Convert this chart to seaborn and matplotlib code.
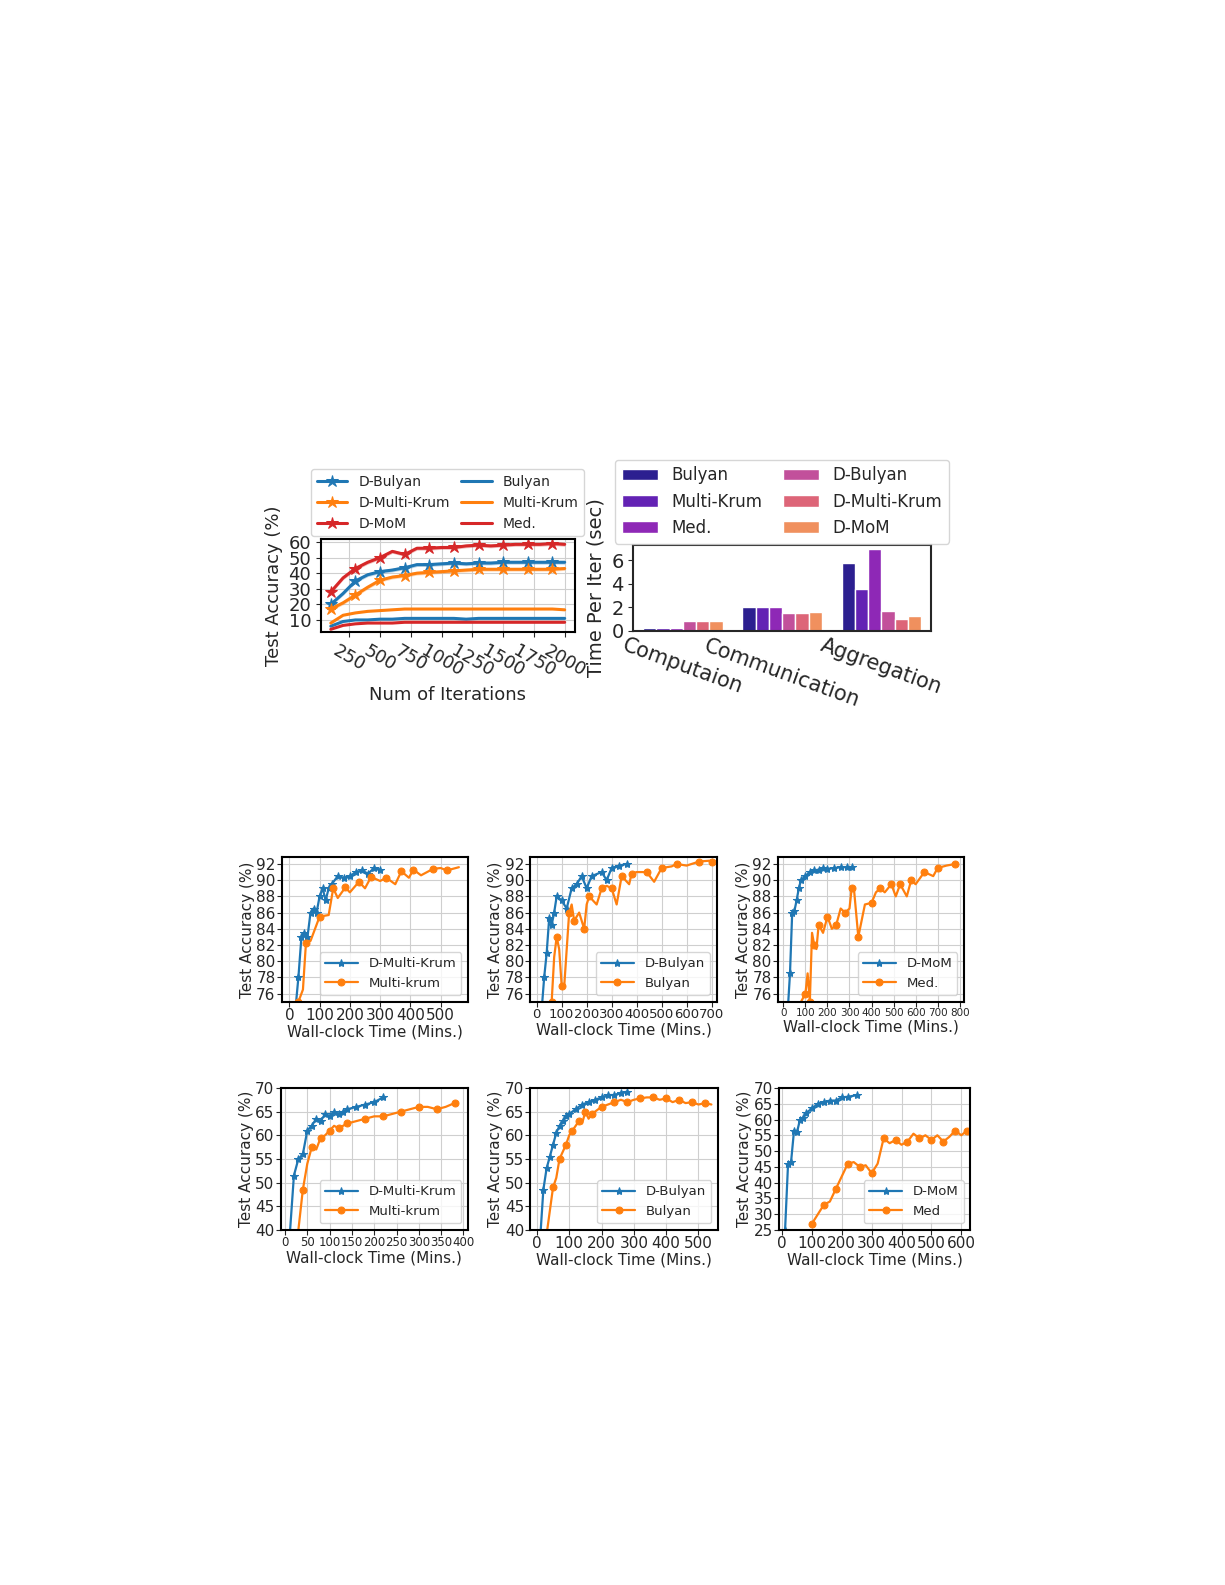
import numpy as np
import pandas as pd
import matplotlib
matplotlib.use("Agg")
import matplotlib.pyplot as plt
import seaborn as sns

sns.set_style("ticks")
plt.rcParams['font.family'] = ['DejaVu Sans']

BLUE, ORANGE, RED = "#1f77b4", "#ff7f0e", "#d62728"

# ---- top-left: accuracy vs iterations
iters = list(range(100, 2001, 100))
d_mom = [28, 37, 43, 47, 50, 54, 52, 56, 56, 56.5, 56.5, 57.5, 58, 57.5, 58, 58.5, 58.5, 58.5, 59, 58.5]
d_bulyan = [20, 27, 35, 39, 41, 42, 43.5, 45.5, 45.5, 46, 46.5, 46, 46.5, 46.5, 47, 47, 47, 47, 47, 47]
d_mkrum = [17, 21, 26, 31, 35.5, 37.5, 38.5, 40, 40.5, 41, 41.5, 42, 42.5, 42.5, 42.5, 42.5, 42.5, 42.5, 42.5, 43]
mkrum = [8, 13, 14.5, 15.5, 16, 16.5, 17, 17, 17, 17, 17, 17, 17, 17, 17, 17, 17, 17, 17, 16.5]
bulyan = [6, 9, 10, 10, 10.5, 10.5, 11, 11, 11, 11, 11, 10.5, 11, 11, 11, 11, 11, 11, 11, 11]
med = [4, 6.5, 7.5, 8, 8, 8, 8.5, 8.5, 8.5, 8.5, 8.5, 8.5, 8.5, 8.5, 8.5, 8.5, 8.5, 8.5, 8.5, 8.5]

# ---- top-right: time per iteration
stages = ["Computaion", "Communication", "Aggregation"]
methods = ["Bulyan", "Multi-Krum", "Med.", "D-Bulyan", "D-Multi-Krum", "D-MoM"]
times = {
    "Computaion": [0.25, 0.25, 0.25, 0.8, 0.8, 0.85],
    "Communication": [2.0, 2.0, 2.0, 1.55, 1.55, 1.6],
    "Aggregation": [5.8, 3.6, 7.0, 1.7, 1.0, 1.3],
}
bar_colors = ["#2c1f90", "#6322b4", "#8e28b6", "#c2509b", "#dd6578", "#f0905e"]

# ---- wall-clock panels (x in mins, y in %)
p1_dx = [20, 30, 40, 50, 60, 70, 80, 90, 100, 110, 120, 130, 140, 160, 180, 200, 220, 240, 260, 280, 300]
p1_dy = [74, 78, 83, 83.5, 83, 86, 86.5, 86, 88, 89, 87.5, 89, 89.5, 90.5, 90.3, 90.5, 91, 91.2, 90.8, 91.5, 91.3]
p1_x = [30, 45, 55, 70, 100, 130, 145, 160, 185, 200, 230, 250, 270, 300, 320, 350, 370, 395, 410, 435, 475, 500, 520, 560]
p1_y = [75, 76.5, 82.3, 82.5, 85.5, 85.7, 89, 87.8, 89.1, 88.5, 89.8, 89, 90.4, 89.9, 90.3, 89.5, 91.1, 90.3, 91.3, 90.6, 91.4, 91.5, 91.2, 91.6]

p2_dx = [20, 30, 40, 50, 60, 70, 80, 100, 120, 140, 160, 180, 200, 220, 260, 280, 300, 330, 360]
p2_dy = [74, 78, 81, 85.3, 84.5, 86, 88, 87.5, 86.5, 89, 89.5, 90.5, 89, 90.5, 91, 90, 91.5, 91.8, 92]
p2_x = [60, 70, 80, 90, 100, 110, 130, 140, 150, 170, 190, 200, 210, 240, 260, 280, 300, 320, 340, 370, 380, 400,
        440, 470, 500, 540, 560, 600, 650, 690, 700]
p2_y = [75, 80.5, 83, 81.5, 77, 76.8, 86, 87, 85, 86, 84, 87, 88, 87, 89, 89.3, 89, 87, 90.5, 89.5, 90.8, 91,
        91, 89.8, 91.5, 91.7, 92, 91.8, 92.3, 92.4, 92.3]

p3_dx = [20, 30, 40, 50, 60, 70, 80, 100, 120, 140, 160, 180, 200, 230, 260, 290, 310]
p3_dy = [74, 78.5, 86, 86.2, 87.5, 89, 90, 90.5, 91, 91.2, 91.3, 91.5, 91.4, 91.5, 91.6, 91.6, 91.6]
p3_x = [60, 80, 100, 110, 120, 130, 140, 150, 160, 180, 200, 220, 240, 260, 280, 300, 310, 320, 340, 370, 400,
        420, 440, 460, 490, 510, 530, 560, 580, 600, 640, 680, 700, 740, 780]
p3_y = [73, 75, 76, 78.5, 75, 83.5, 82, 81.5, 84.5, 83.5, 85.5, 84, 84.5, 86.5, 86, 86.5, 89, 89, 83, 87, 87.2,
        88.5, 89, 88.5, 89.5, 88, 89.5, 88, 90, 89.5, 91, 90.5, 91.5, 91.8, 92]

p4_dx = [10, 20, 30, 40, 50, 60, 70, 80, 90, 100, 110, 120, 130, 140, 160, 180, 200, 220]
p4_dy = [38, 51.5, 55, 56, 61, 62, 63.5, 63, 64.5, 64, 65, 64.5, 65, 65.5, 66, 66.5, 67, 68]
p4_x = [25, 30, 40, 50, 60, 70, 80, 90, 100, 110, 120, 130, 140, 160, 180, 200, 220, 240, 260, 280, 300, 320,
        340, 360, 380]
p4_y = [38, 40, 48.5, 54, 57.5, 57, 59.5, 60, 61, 62, 61.5, 62, 62.5, 63, 63.5, 64, 64, 64.5, 65, 65.5, 66, 66,
        65.5, 66, 66.8]

p5_dx = [10, 20, 30, 40, 50, 60, 70, 80, 90, 100, 120, 140, 160, 180, 200, 220, 240, 260, 280]
p5_dy = [38, 48.5, 53, 55.5, 58, 60.5, 62, 63, 64, 64.5, 65.5, 66.5, 67, 67.5, 68, 68.5, 68.5, 69, 69.2]
p5_x = [30, 40, 50, 60, 70, 80, 90, 100, 110, 120, 130, 140, 150, 160, 170, 180, 200, 220, 240, 260, 280, 300,
        320, 340, 360, 380, 400, 420, 440, 460, 480, 500, 520, 540]
p5_y = [39, 44, 49, 51, 55, 56.5, 58, 60, 61, 62, 63, 62.5, 65, 63.5, 64.5, 65, 66, 66.5, 67, 67.5, 67, 67.5,
        67.8, 68, 68, 67.5, 67.8, 67, 67.5, 66.8, 67, 66.5, 66.8, 66.5]

p6_dx = [10, 20, 30, 40, 50, 60, 70, 80, 100, 120, 140, 160, 180, 200, 220, 250]
p6_dy = [25, 46, 46.5, 56.5, 56, 60, 60.5, 62, 63.5, 65, 65.5, 66, 66, 67, 67.2, 67.7]
p6_x = [100, 120, 140, 160, 180, 200, 220, 240, 260, 280, 300, 320, 340, 360, 380, 400, 420, 440, 460, 480, 500,
        520, 540, 560, 580, 600, 620]
p6_y = [27, 30, 33, 34, 38, 42, 46, 46.5, 45, 45.5, 43, 46, 54, 52.5, 53.5, 52, 53, 55.5, 54, 55, 53.5, 55, 53,
        54.5, 56.5, 55, 56.5]

fig = plt.figure(figsize=(12.25, 15.85), dpi=100)


def frame(ax):
    ax.grid(True, color="#cfcfcf", linewidth=0.8)
    ax.set_axisbelow(True)
    for s in ax.spines.values():
        s.set_linewidth(1.5)
        s.set_color("black")


# top-left
ax = fig.add_axes([0.262, 0.601, 0.207, 0.059])
for ys, c, lab in [(d_bulyan, BLUE, "D-Bulyan"), (d_mkrum, ORANGE, "D-Multi-Krum"), (d_mom, RED, "D-MoM")]:
    sns.lineplot(x=iters, y=ys, ax=ax, color=c, marker="*", markersize=9, markevery=2, lw=2.2, label=lab,
                 markeredgecolor=c)
    ax.fill_between(iters, np.array(ys) - 1.2, np.array(ys) + 1.2, color=c, alpha=0.3, lw=0)
for ys, c, lab in [(bulyan, BLUE, "Bulyan"), (mkrum, ORANGE, "Multi-Krum"), (med, RED, "Med.")]:
    sns.lineplot(x=iters, y=ys, ax=ax, color=c, lw=2.2, label=lab)
ax.set_xlim(20, 2080)
ax.set_ylim(2, 62)
ax.set_xticks(range(250, 2001, 250))
ax.set_yticks(range(10, 61, 10))
ax.tick_params(axis="x", labelsize=13, rotation=-30)
ax.tick_params(axis="y", labelsize=13)
ax.set_xlabel("Num of Iterations", fontsize=13)
ax.set_ylabel("Test Accuracy (%)", fontsize=13)
ax.legend(ncol=2, fontsize=10, loc="lower center", bbox_to_anchor=(0.5, 1.0), handlelength=2.2,
          columnspacing=0.8, borderaxespad=0.2)
frame(ax)

# top-right
ax = fig.add_axes([0.517, 0.602, 0.243, 0.054])
rows = [(st, m, times[st][i]) for st in stages for i, m in enumerate(methods)]
df = pd.DataFrame(rows, columns=["stage", "method", "time"])
sns.barplot(data=df, x="stage", y="time", hue="method", hue_order=methods, order=stages,
            palette=bar_colors, ax=ax, saturation=1)
ax.set_ylim(0, 7.3)
ax.set_yticks([0, 2, 4, 6])
ax.set_xlabel("")
ax.set_ylabel("Time Per Iter (sec)", fontsize=14)
ax.tick_params(axis="y", labelsize=14)
ax.tick_params(axis="x", labelsize=15, rotation=-20, length=0)
ax.legend(ncol=2, fontsize=12, loc="lower center", bbox_to_anchor=(0.5, 1.02), borderaxespad=0,
          columnspacing=1.2, handlelength=2.2)
for s in ax.spines.values():
    s.set_linewidth(1.5)

# wall-clock panels
panels = [
    ([0.230, 0.368, 0.152, 0.091], p1_dx, p1_dy, p1_x, p1_y, "D-Multi-Krum", "Multi-krum",
     (-25, 590), range(0, 501, 100), (75, 92.8), range(76, 93, 2), 11),
    ([0.433, 0.368, 0.152, 0.091], p2_dx, p2_dy, p2_x, p2_y, "D-Bulyan", "Bulyan",
     (-25, 720), range(0, 701, 100), (75, 92.8), range(76, 93, 2), 9.5),
    ([0.635, 0.368, 0.152, 0.091], p3_dx, p3_dy, p3_x, p3_y, "D-MoM", "Med.",
     (-25, 820), range(0, 801, 100), (75, 92.8), range(76, 93, 2), 7.5),
    ([0.229, 0.224, 0.153, 0.0896], p4_dx, p4_dy, p4_x, p4_y, "D-Multi-Krum", "Multi-krum",
     (-10, 410), range(0, 401, 50), (40, 70), range(40, 71, 5), 8.5),
    ([0.433, 0.224, 0.153, 0.0896], p5_dx, p5_dy, p5_x, p5_y, "D-Bulyan", "Bulyan",
     (-20, 560), range(0, 501, 100), (40, 70), range(40, 71, 5), 11),
    ([0.636, 0.224, 0.156, 0.0896], p6_dx, p6_dy, p6_x, p6_y, "D-MoM", "Med",
     (-10, 630), range(0, 601, 100), (25, 70), range(25, 71, 5), 11),
]
for rect, dx, dy, ox, oy, dlab, olab, xl, xt, yl, yt, xfs in panels:
    ax = fig.add_axes(rect)
    sns.lineplot(x=dx, y=dy, ax=ax, color=BLUE, marker="*", markersize=6, lw=1.6, label=dlab,
                 markeredgecolor=BLUE, sort=False)
    sns.lineplot(x=ox, y=oy, ax=ax, color=ORANGE, marker="o", markersize=5, markevery=2, lw=1.6, label=olab,
                 markeredgecolor=ORANGE, sort=False)
    ax.set_xlim(*xl)
    ax.set_ylim(*yl)
    ax.set_xticks(list(xt))
    ax.set_yticks(list(yt))
    ax.tick_params(axis="x", labelsize=xfs, pad=1)
    ax.tick_params(axis="y", labelsize=11, pad=1)
    ax.set_xlabel("Wall-clock Time (Mins.)", fontsize=11, labelpad=1)
    ax.set_ylabel("Test Accuracy (%)", fontsize=11, labelpad=1)
    ax.legend(loc="lower right", fontsize=9.5, handlelength=2.5)
    frame(ax)

fig.savefig("out.png", dpi=100)
